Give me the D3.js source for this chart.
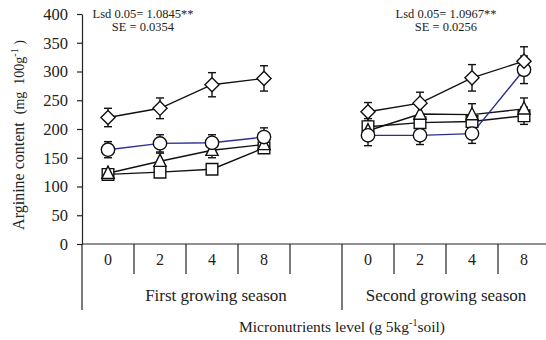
<!DOCTYPE html>
<html>
<head>
<meta charset="utf-8">
<script src="https://cdn.jsdelivr.net/npm/d3@7"></script>
<style>
  body { margin: 0; background: #fff; }
  text { font-family: "Liberation Serif", "Times New Roman", serif; fill: #222; }
</style>
</head>
<body>
<svg id="chart" width="546" height="340"></svg>
<script>
// Tick labels and categories
const levels = ["0", "2", "4", "8"];
const seasons = ["First growing season", "Second growing season"];
const yTicks = [0, 50, 100, 150, 200, 250, 300, 350, 400];

// Series values (first season, second season) and error bars
const diamond1 = [220, 236, 277, 288];
const diamond2 = [230, 245, 289, 318];
const diamondErr1 = [16, 18, 21, 22];
const diamondErr2 = [16, 19, 23, 25];

const circle1 = [164, 175, 176, 186];
const circle2 = [189, 189, 192, 303];
const circleErr1 = [14, 15, 14, 16];
const circleErr2 = [18, 16, 17, 24];

const triangle1 = [123, 144, 163, 173];
const triangle2 = [197, 226, 225, 235];
const triangleErr1 = [8, 14, 13, 10];
const triangleErr2 = [12, 14, 19, 19];

const square1 = [121, 125, 130, 167];
const square2 = [204, 211, 213, 223];
const squareErr1 = [6, 6, 6, 6];
const squareErr2 = [14, 10, 10, 15];

const statsText = [
  ["Lsd 0.05= 1.0845**", "SE = 0.0354"],
  ["Lsd 0.05= 1.0967**", "SE = 0.0256"]
];

const svg = d3.select("#chart");

// 9 slots: 4 levels, a blank gap, then 4 levels
const slots = d3.range(9);
const slotLabels = [...levels, "", ...levels];
const x = d3.scaleBand().domain(slots).range([82, 550]);
const y = d3.scaleLinear().domain([0, 400]).range([244, 14]);

// Y axis
const yAxis = svg.append("g")
  .attr("transform", "translate(82,0)")
  .call(d3.axisLeft(y).tickValues(yTicks).tickSize(5).tickSizeOuter(0).tickPadding(9));
yAxis.selectAll("text").style("font-size", "16.5px").style("font-family", "Liberation Serif");
yAxis.selectAll("path, line").attr("stroke", "#222").attr("stroke-width", 1.2);

// X axis line
svg.append("line")
  .attr("x1", 82).attr("x2", 546)
  .attr("y1", y(0)).attr("y2", y(0))
  .attr("stroke", "#222").attr("stroke-width", 1.2);

// Category boundaries
slots.forEach(i => {
  const xb = x(i);
  const long = i === 0 || i === 5;
  svg.append("line")
    .attr("x1", xb).attr("x2", xb)
    .attr("y1", y(0)).attr("y2", long ? 310 : 274)
    .attr("stroke", "#222").attr("stroke-width", 1.2);
  svg.append("text")
    .attr("x", xb + x.bandwidth() / 2)
    .attr("y", 265)
    .attr("text-anchor", "middle")
    .style("font-size", "16px")
    .text(slotLabels[i]);
});

// Season labels
svg.append("text").attr("x", (x(0) + x(5)) / 2 + 4).attr("y", 301)
  .attr("text-anchor", "middle").style("font-size", "17px").text(seasons[0]);
svg.append("text").attr("x", (x(5) + x(8) + x.bandwidth()) / 2).attr("y", 301)
  .attr("text-anchor", "middle").style("font-size", "17px").text(seasons[1]);

// X title
const xt = svg.append("text").attr("x", 342).attr("y", 332)
  .attr("text-anchor", "middle").style("font-size", "15.5px");
xt.append("tspan").text("Micronutrients level (g 5kg");
xt.append("tspan").attr("dy", -6).style("font-size", "10px").text("-1");
xt.append("tspan").attr("dy", 6).text("soil)");

// Y title
const yt = svg.append("text")
  .attr("transform", "translate(24,135) rotate(-90)")
  .attr("text-anchor", "middle").style("font-size", "16px");
yt.append("tspan").text("Arginine content\u00a0\u00a0");
yt.append("tspan").style("font-size", "14px").text("(mg\u00a0\u00a0100g");
yt.append("tspan").attr("dy", -6).style("font-size", "10px").text("-1");
yt.append("tspan").attr("dy", 6).style("font-size", "14px").text("\u00a0)");

// Stats annotations
[[143, 0], [446, 1]].forEach(([cx, k]) => {
  svg.append("text").attr("x", cx).attr("y", 18).attr("text-anchor", "middle")
    .style("font-size", "12.5px").text(statsText[k][0]);
  svg.append("text").attr("x", cx).attr("y", 31).attr("text-anchor", "middle")
    .style("font-size", "12.5px").text(statsText[k][1]);
});

// Marker shapes
const diamondShape = { draw(ctx, size) { const r = Math.sqrt(size) / 2 * 1.35; ctx.moveTo(0, -r); ctx.lineTo(r, 0); ctx.lineTo(0, r); ctx.lineTo(-r, 0); ctx.closePath(); } };
const triangleShape = { draw(ctx, size) { const h = Math.sqrt(size); ctx.moveTo(0, -h * 0.58); ctx.lineTo(h * 0.5, h * 0.42); ctx.lineTo(-h * 0.5, h * 0.42); ctx.closePath(); } };

const series = [
  { v1: square1, v2: square2, e1: squareErr1, e2: squareErr2, color: "#111", shape: d3.symbolSquare, size: 135 },
  { v1: triangle1, v2: triangle2, e1: triangleErr1, e2: triangleErr2, color: "#111", shape: triangleShape, size: 150 },
  { v1: circle1, v2: circle2, e1: circleErr1, e2: circleErr2, color: "#2b2f8f", shape: d3.symbolCircle, size: 140 },
  { v1: diamond1, v2: diamond2, e1: diamondErr1, e2: diamondErr2, color: "#111", shape: diamondShape, size: 110 }
];

const cx = i => x(i) + x.bandwidth() / 2;
const line = d3.line().x(d => cx(d.i)).y(d => y(d.v));

series.forEach(s => {
  const pts1 = s.v1.map((v, j) => ({ i: j, v, e: s.e1[j] }));
  const pts2 = s.v2.map((v, j) => ({ i: j + 5, v, e: s.e2[j] }));
  [pts1, pts2].forEach(pts => {
    // error bars
    pts.forEach(p => {
      const g = svg.append("g").attr("stroke", "#111").attr("stroke-width", 1.4);
      g.append("line").attr("x1", cx(p.i)).attr("x2", cx(p.i)).attr("y1", y(p.v + p.e)).attr("y2", y(p.v - p.e));
      [p.v + p.e, p.v - p.e].forEach(vv => {
        g.append("line").attr("x1", cx(p.i) - 4).attr("x2", cx(p.i) + 4).attr("y1", y(vv)).attr("y2", y(vv));
      });
    });
    svg.append("path").datum(pts)
      .attr("fill", "none").attr("stroke", s.color).attr("stroke-width", 1.4)
      .attr("d", line);
  });
});

// markers on top
series.forEach(s => {
  const pts = [...s.v1.map((v, j) => ({ i: j, v })), ...s.v2.map((v, j) => ({ i: j + 5, v }))];
  svg.selectAll(null).data(pts).enter().append("path")
    .attr("transform", d => `translate(${cx(d.i)},${y(d.v)})`)
    .attr("d", d3.symbol().type(s.shape).size(s.size))
    .attr("fill", "#fff").attr("stroke", "#111").attr("stroke-width", 1.4);
});
</script>
</body>
</html>
